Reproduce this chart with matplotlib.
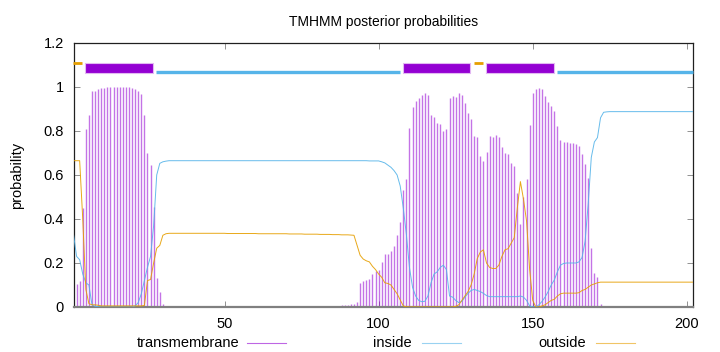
import matplotlib
matplotlib.use("Agg")
import matplotlib.pyplot as plt
from matplotlib.patches import Rectangle
from matplotlib.lines import Line2D
import numpy as np

plt.rcParams['font.family'] = ['Liberation Sans', 'DejaVu Sans']

# posterior probabilities per residue (1..202)
tm = [
    0.005, 0.105, 0.12, 0.45, 0.81, 0.875, 0.98, 0.98, 0.99, 0.995,
    0.997, 0.998, 0.999, 0.999, 0.999, 0.999, 0.999, 0.998, 0.998, 0.996,
    0.99, 0.98, 0.97, 0.873, 0.70, 0.647, 0.456, 0.133, 0.067, 0.014,
    0.003, 0.001, 0, 0, 0, 0, 0, 0, 0, 0,
    0, 0, 0, 0, 0, 0, 0, 0, 0, 0,
    0, 0, 0, 0, 0, 0, 0, 0, 0, 0,
    0, 0, 0, 0, 0, 0, 0, 0, 0, 0,
    0, 0, 0, 0, 0, 0, 0, 0, 0, 0,
    0, 0, 0, 0.003, 0.004, 0.005, 0.006, 0.007, 0.008, 0.01,
    0.012, 0.015, 0.025, 0.108, 0.118, 0.123, 0.126, 0.15, 0.164, 0.17,
    0.206, 0.241, 0.241, 0.255, 0.279, 0.327, 0.385, 0.532, 0.58, 0.812,
    0.907, 0.938, 0.948, 0.962, 0.971, 0.962, 0.873, 0.862, 0.835, 0.832,
    0.80, 0.81, 0.948, 0.959, 0.953, 0.971, 0.964, 0.926, 0.88, 0.853,
    0.777, 0.774, 0.686, 0.665, 0.705, 0.777, 0.771, 0.78, 0.771, 0.729,
    0.70, 0.695, 0.656, 0.641, 0.517, 0.377, 0.499, 0.58, 0.827, 0.971,
    0.99, 0.994, 0.99, 0.96, 0.933, 0.914, 0.892, 0.823, 0.759, 0.752,
    0.75, 0.745, 0.745, 0.743, 0.732, 0.695, 0.65, 0.585, 0.267, 0.156,
    0.135, 0.014, 0.002, 0, 0, 0, 0, 0, 0, 0,
    0, 0, 0, 0, 0, 0, 0, 0, 0, 0,
    0, 0, 0, 0, 0, 0, 0, 0, 0, 0,
    0, 0,
]

inside = [
    0.33, 0.23, 0.215, 0.15, 0.11, 0.10, 0.01, 0.003, 0.001, 0,
    0, 0, 0, 0, 0, 0, 0, 0, 0, 0,
    0.005, 0.02, 0.06, 0.12, 0.18, 0.23, 0.37, 0.60, 0.653, 0.66,
    0.663, 0.665, 0.665, 0.665, 0.665, 0.665, 0.665, 0.665, 0.665, 0.665,
    0.665, 0.665, 0.665, 0.665, 0.665, 0.665, 0.665, 0.665, 0.665, 0.665,
    0.665, 0.665, 0.665, 0.665, 0.665, 0.665, 0.665, 0.665, 0.665, 0.665,
    0.665, 0.665, 0.665, 0.665, 0.665, 0.665, 0.665, 0.665, 0.665, 0.665,
    0.665, 0.665, 0.665, 0.665, 0.665, 0.665, 0.665, 0.665, 0.665, 0.665,
    0.665, 0.665, 0.665, 0.665, 0.665, 0.665, 0.665, 0.665, 0.665, 0.665,
    0.665, 0.665, 0.665, 0.665, 0.665, 0.665, 0.664, 0.664, 0.664, 0.664,
    0.66, 0.655, 0.645, 0.635, 0.62, 0.60, 0.55, 0.45, 0.33, 0.18,
    0.09, 0.05, 0.03, 0.024, 0.026, 0.05, 0.11, 0.15, 0.16, 0.18,
    0.19, 0.17, 0.05, 0.045, 0.03, 0.02, 0.025, 0.045, 0.062, 0.075,
    0.08, 0.075, 0.07, 0.062, 0.052, 0.047, 0.047, 0.047, 0.047, 0.047,
    0.047, 0.047, 0.047, 0.047, 0.047, 0.05, 0.045, 0.03, 0.005, 0,
    0, 0.01, 0.025, 0.045, 0.07, 0.10, 0.123, 0.16, 0.19, 0.198,
    0.20, 0.20, 0.20, 0.20, 0.205, 0.225, 0.30, 0.47, 0.68, 0.75,
    0.77, 0.86, 0.885, 0.887, 0.888, 0.888, 0.888, 0.888, 0.888, 0.888,
    0.888, 0.888, 0.888, 0.888, 0.888, 0.888, 0.888, 0.888, 0.888, 0.888,
    0.888, 0.888, 0.888, 0.888, 0.888, 0.888, 0.888, 0.888, 0.888, 0.888,
    0.888, 0.888,
]

outside = [
    0.665, 0.665, 0.665, 0.40, 0.08, 0.015, 0.01, 0.01, 0.008, 0.005,
    0.005, 0.005, 0.005, 0.005, 0.005, 0.005, 0.005, 0.005, 0.005, 0.005,
    0.005, 0.005, 0.005, 0.007, 0.12, 0.125, 0.20, 0.267, 0.28, 0.326,
    0.333, 0.335, 0.335, 0.335, 0.335, 0.335, 0.335, 0.335, 0.335, 0.335,
    0.335, 0.335, 0.335, 0.335, 0.335, 0.335, 0.335, 0.335, 0.335, 0.335,
    0.334, 0.334, 0.334, 0.334, 0.334, 0.334, 0.334, 0.334, 0.334, 0.334,
    0.333, 0.333, 0.333, 0.333, 0.333, 0.333, 0.333, 0.333, 0.333, 0.333,
    0.332, 0.332, 0.332, 0.332, 0.332, 0.331, 0.331, 0.331, 0.331, 0.331,
    0.330, 0.330, 0.330, 0.330, 0.329, 0.329, 0.329, 0.328, 0.328, 0.328,
    0.327, 0.326, 0.28, 0.235, 0.218, 0.21, 0.205, 0.185, 0.17, 0.15,
    0.135, 0.11, 0.107, 0.10, 0.08, 0.06, 0.032, 0.005, 0.001, 0,
    0, 0, 0, 0, 0, 0, 0, 0, 0, 0,
    0, 0, 0, 0, 0.003, 0.01, 0.03, 0.05, 0.07, 0.10,
    0.15, 0.22, 0.25, 0.26, 0.20, 0.18, 0.175, 0.175, 0.19, 0.23,
    0.26, 0.265, 0.29, 0.315, 0.45, 0.57, 0.49, 0.39, 0.17, 0.03,
    0, 0, 0.005, 0.01, 0.02, 0.03, 0.035, 0.05, 0.06, 0.063,
    0.063, 0.063, 0.063, 0.063, 0.065, 0.075, 0.08, 0.09, 0.10, 0.105,
    0.11, 0.113, 0.113, 0.113, 0.113, 0.113, 0.113, 0.113, 0.113, 0.113,
    0.113, 0.113, 0.113, 0.113, 0.113, 0.113, 0.113, 0.113, 0.113, 0.113,
    0.113, 0.113, 0.113, 0.113, 0.113, 0.113, 0.113, 0.113, 0.113, 0.113,
    0.113, 0.113,
]

# predicted topology: (kind, start, end)
topology = [
    ("outside", 1, 4),
    ("TMhelix", 5, 27),
    ("inside", 28, 107),
    ("TMhelix", 108, 130),
    ("outside", 131, 134),
    ("TMhelix", 135, 157),
    ("inside", 158, 202),
]

seq_len = 202
pos = np.arange(1, len(tm) + 1)

c_tm = "#9400d3"
c_in = "#56b4e9"
c_out = "#e69f00"

fig = plt.figure(figsize=(7.2, 3.52), dpi=100)
ax = fig.add_axes([73.5 / 720, 1 - 307 / 352, (693 - 73.5) / 720, (307 - 43) / 352])

ax.vlines(pos, 0, tm, color=c_tm, linewidth=1.0, alpha=0.55, zorder=2)
ax.plot(pos, inside, color=c_in, linewidth=0.7, alpha=0.9, zorder=3)
ax.plot(pos, outside, color=c_out, linewidth=0.7, alpha=0.9, zorder=4)

for kind, a, b in topology:
    if kind == "TMhelix":
        ax.add_patch(Rectangle((a - 0.2, 1.065), b - a, 0.043, facecolor=c_tm,
                               edgecolor="#e2b8f2", linewidth=0.8, zorder=5, clip_on=False))
    elif kind == "inside":
        ax.plot([a - 0.2, b], [1.066, 1.066], color=c_in, linewidth=2.4,
                solid_capstyle="butt", zorder=5, clip_on=False)
    else:
        ax.plot([a - 0.2, b - 0.2], [1.108, 1.108], color=c_out, linewidth=2.0,
                solid_capstyle="butt", zorder=5, clip_on=False)

ax.set_xlim(1, seq_len)
ax.set_ylim(0, 1.2)
ax.set_xticks([50, 100, 150, 200])
ax.set_yticks([0, 0.2, 0.4, 0.6, 0.8, 1.0, 1.2])
ax.set_yticklabels(["0", "0.2", "0.4", "0.6", "0.8", "1", "1.2"])
ax.tick_params(direction="in", length=4, width=0.6, color="#808080",
               labelsize=10.5, pad=7, top=True, right=True)
for s in ["left", "top", "right"]:
    ax.spines[s].set_linewidth(0.9)
    ax.spines[s].set_color("#202020")
ax.spines["bottom"].set_color("#808080")
ax.spines["bottom"].set_linewidth(1.6)

ax.set_title("TMHMM posterior probabilities", fontsize=10, pad=12)
ax.set_ylabel("probability", fontsize=10.5, labelpad=14)

# gnuplot style key below the plot
key = [("transmembrane", c_tm, 239, 247), ("inside", c_in, 412, 422), ("outside", c_out, 586, 596)]
ky = 1 - 343 / 352
for label, col, tx, lx in key:
    fig.text(tx / 720, ky, label, ha="right", va="center", fontsize=10.5)
    fig.add_artist(Line2D([lx / 720, (lx + 39) / 720], [ky, ky], color=col,
                          linewidth=0.8, alpha=0.6, transform=fig.transFigure))

fig.savefig("out.png", dpi=100)
